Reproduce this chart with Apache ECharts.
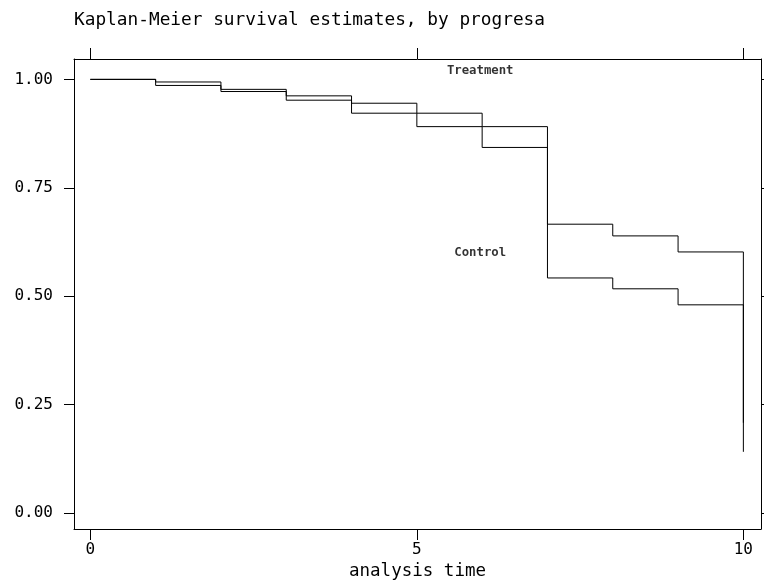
<!DOCTYPE html>
<html>
<head>
<meta charset="utf-8">
<script src="https://cdn.jsdelivr.net/npm/echarts@6/dist/echarts.min.js"></script>
<style>
  html, body { margin: 0; padding: 0; background: #fff; }
  #km_chart { width: 764px; height: 587px; }
</style>
</head>
<body>
<div id="km_chart"></div>
<script>
// analysis time points (step changes)
var times = [0, 1, 2, 3, 4, 5, 6, 7, 8, 9, 10];
// survival estimates
var treatment = [1.000, 0.994, 0.977, 0.962, 0.945, 0.922, 0.891, 0.666, 0.639, 0.602, 0.208];
var control = [1.000, 0.986, 0.972, 0.952, 0.922, 0.891, 0.843, 0.542, 0.517, 0.480, 0.141];

// tick values
var xTicks = [0, 5, 10];
var yTicks = [0, 0.25, 0.5, 0.75, 1];

// curve labels (name, x, y in data units)
var labelNames = ['Treatment', 'Control'];
var labelX = [5.97, 5.97];
var labelY = [1.02, 0.60];

var FONT = 'DejaVu Sans Mono';

function pairs(xs, ys) {
  var out = [];
  for (var i = 0; i < xs.length; i++) out.push([xs[i], ys[i]]);
  return out;
}

var km_chart = echarts.init(document.getElementById('km_chart'), null, { renderer: 'canvas' });

var lineStyleAxis = { color: '#000', width: 1 };

km_chart.setOption({
  animation: false,
  backgroundColor: '#fff',
  title: {
    text: 'Kaplan-Meier survival estimates, by progresa',
    left: 69,
    top: 6,
    textStyle: { fontFamily: FONT, fontSize: 17.8, fontWeight: 'normal', color: '#000' }
  },
  grid: { left: 74, right: 3, top: 59, bottom: 58, containLabel: false },
  xAxis: [{
    type: 'value',
    min: -0.25,
    max: 10.27,
    position: 'bottom',
    name: 'analysis time',
    nameLocation: 'middle',
    nameGap: 27,
    nameTextStyle: { fontFamily: FONT, fontSize: 17.5, color: '#000' },
    axisLine: { show: true, onZero: false, lineStyle: lineStyleAxis },
    axisTick: { show: true, inside: false, length: 11, customValues: xTicks, lineStyle: lineStyleAxis },
    axisLabel: { show: true, margin: 13, customValues: xTicks, fontFamily: FONT, fontSize: 16, color: '#000' },
    splitLine: { show: false }
  }, {
    type: 'value',
    min: -0.25,
    max: 10.27,
    position: 'top',
    axisLine: { show: true, onZero: false, lineStyle: lineStyleAxis },
    axisTick: { show: true, inside: false, length: 11, customValues: xTicks, lineStyle: lineStyleAxis },
    axisLabel: { show: false },
    splitLine: { show: false }
  }],
  yAxis: [{
    type: 'value',
    min: -0.037,
    max: 1.047,
    position: 'left',
    axisLine: { show: true, onZero: false, lineStyle: lineStyleAxis },
    axisTick: { show: true, inside: false, length: 10, customValues: yTicks, lineStyle: lineStyleAxis },
    axisLabel: {
      show: true, margin: 21, customValues: yTicks,
      fontFamily: FONT, fontSize: 16, color: '#000',
      formatter: function (v) { return v.toFixed(2); }
    },
    splitLine: { show: false }
  }, {
    type: 'value',
    min: -0.037,
    max: 1.047,
    position: 'right',
    axisLine: { show: true, onZero: false, lineStyle: lineStyleAxis },
    axisTick: { show: true, inside: false, length: 10, customValues: yTicks, lineStyle: lineStyleAxis },
    axisLabel: { show: false },
    splitLine: { show: false }
  }],
  series: [{
    name: 'Treatment',
    type: 'line',
    step: 'end',
    symbol: 'none',
    lineStyle: { color: '#000', width: 1 },
    data: pairs(times, treatment)
  }, {
    name: 'Control',
    type: 'line',
    step: 'end',
    symbol: 'none',
    lineStyle: { color: '#000', width: 1 },
    data: pairs(times, control)
  }, {
    name: 'labels',
    type: 'scatter',
    symbolSize: 0,
    silent: true,
    label: {
      show: true,
      position: 'inside',
      fontFamily: FONT,
      fontSize: 12.3,
      fontWeight: 'bold',
      color: '#000',
      formatter: function (p) { return labelNames[p.dataIndex]; }
    },
    data: pairs(labelX, labelY)
  }]
});
</script>
</body>
</html>
